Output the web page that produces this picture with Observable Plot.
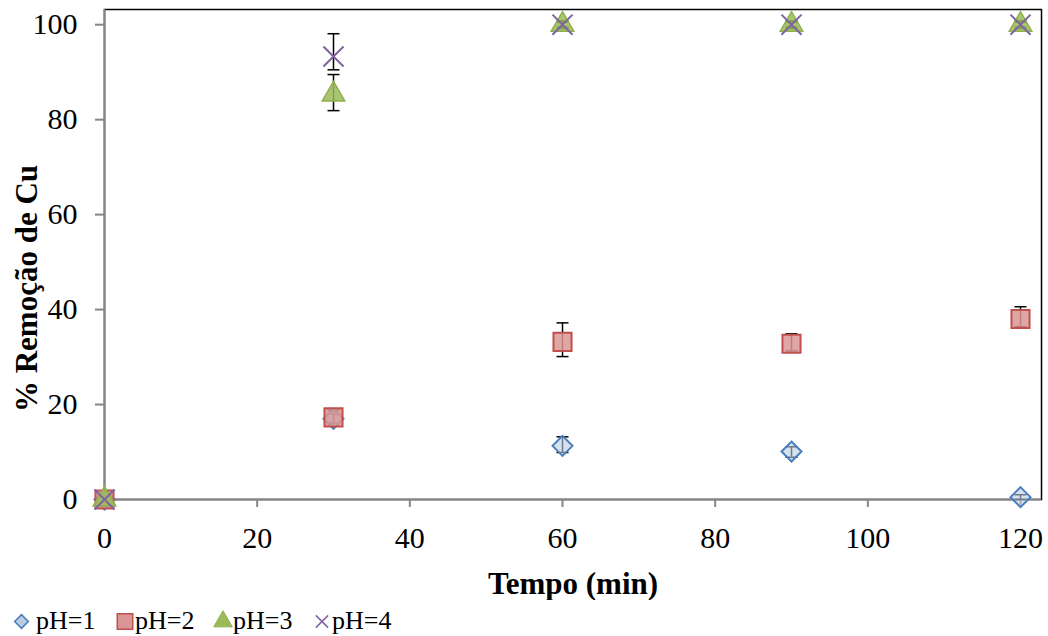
<!DOCTYPE html>
<html><head><meta charset="utf-8">
<script src="https://cdn.jsdelivr.net/npm/d3@7"></script>
<script src="https://cdn.jsdelivr.net/npm/@observablehq/plot@0.6"></script>
<style>
body{margin:0;background:#fff;font-family:"Liberation Serif","Times New Roman",serif;}
#legend{display:block;}
</style></head>
<body><div id="chart"></div><div id="legend"></div>
<script>
// Data
const tempo = [0, 30, 60, 90, 120];
const seriesNames = ["pH=1", "pH=2", "pH=3", "pH=4"];
const pH1 = [0, 17.0, 11.3, 10.1, 0.5];
const pH1Lo = [0, 16.0, 9.9, 8.9, 0.0];
const pH1Hi = [0, 18.0, 13.2, 11.1, 1.0];
const pH2 = [0, 17.3, 33.2, 32.8, 38.0];
const pH2Lo = [0, 16.1, 30.1, 31.3, 36.4];
const pH2Hi = [0, 18.8, 37.2, 34.9, 40.6];
const pH3 = [0, 85.3, 100, 100, 100];
const pH3Lo = [0, 81.9, 99.2, 99.2, 99.2];
const pH3Hi = [0, 89.5, 100.8, 100.8, 100.8];
const pH4 = [0, 93.3, 100, 100, 100];
const pH4Lo = [0, 90.5, 99.5, 99.5, 99.5];
const pH4Hi = [0, 98.1, 100.5, 100.5, 100.5];
const xTicks = [0, 20, 40, 60, 80, 100, 120];
const yTicks = [0, 20, 40, 60, 80, 100];

const vals = [pH1, pH2, pH3, pH4];
const los = [pH1Lo, pH2Lo, pH3Lo, pH4Lo];
const his = [pH1Hi, pH2Hi, pH3Hi, pH4Hi];
const rows = seriesNames.map((s, i) => tempo.map((t, j) => ({s, t, v: vals[i][j], lo: los[i][j], hi: his[i][j]})));
const errRows = rows.flat().filter(d => d.hi > d.lo);

const styles = [
  {symbol: "diamond2", r: 9, fill: "#b9cde5", fillOpacity: 0.6, stroke: "#4a7ebb", strokeWidth: 2},
  {symbol: "square", r: 10.2, fill: "#d99694", fillOpacity: 0.85, stroke: "#c0504d", strokeWidth: 2},
  {symbol: "triangle", r: 8.4, fill: "#9bbb59", fillOpacity: 0.85, stroke: "#8fb04d", strokeWidth: 1.5},
  {symbol: "times", r: 9.2, fill: "none", stroke: "#8064a2", strokeWidth: 2}
];

const cap = {draw(ctx) { ctx.moveTo(-6, 0); ctx.lineTo(6, 0); }};
const serif = "'Liberation Serif','Times New Roman',serif";

const chart = Plot.plot({
  width: 1048,
  height: 600,
  marginLeft: 104,
  marginRight: 7,
  marginTop: 9,
  marginBottom: 101,
  style: {fontFamily: serif, fontSize: "30px", background: "#fff", color: "#000"},
  x: {domain: [0, 122.75]},
  y: {domain: [0, 103.2]},
  marks: [
    Plot.frame({stroke: "#000", strokeWidth: 1.5}),
    Plot.ruleX([0], {stroke: "#868686", strokeWidth: 2}),
    Plot.ruleY([0], {stroke: "#868686", strokeWidth: 2}),
    Plot.axisX({ticks: xTicks, tickSize: 8, tickPadding: 19, stroke: "#868686", strokeWidth: 2, color: "#000", fontSize: 30, label: null, tickFormat: d => String(d)}),
    Plot.axisY({ticks: yTicks, tickSize: 9, tickPadding: 18, stroke: "#868686", strokeWidth: 2, color: "#000", fontSize: 30, label: null, tickFormat: d => String(d)}),
    Plot.text(["Tempo (min)"], {frameAnchor: "bottom", textAnchor: "middle", lineAnchor: "middle", dy: 85, fontWeight: "bold", fontSize: 31, fill: "#000"}),
    Plot.text(["% Remoção de Cu"], {frameAnchor: "left", textAnchor: "middle", lineAnchor: "middle", rotate: -90, dx: -77, dy: 34, fontWeight: "bold", fontSize: 31, fill: "#000"}),
    Plot.ruleX(errRows, {x: "t", y1: "lo", y2: "hi", stroke: "#000", strokeWidth: 1.5}),
    Plot.dot(errRows, {x: "t", y: "lo", symbol: cap, stroke: "#000", strokeWidth: 1.5}),
    Plot.dot(errRows, {x: "t", y: "hi", symbol: cap, stroke: "#000", strokeWidth: 1.5}),
    ...rows.map((r, i) => Plot.dot(r, {x: "t", y: "v", ...styles[i]}))
  ]
});
document.getElementById("chart").appendChild(chart);

// Legend
const lg = d3.select("#legend").append("svg").attr("width", 1048).attr("height", 36);
const legendX = [21.5, 125, 223, 322];
const legendSym = [
  {type: d3.symbolDiamond2, size: 120, fill: "#b9cde5", stroke: "#4a7ebb", sw: 1.5},
  {type: d3.symbolSquare, size: 240, fill: "#d99694", stroke: "#c0504d", sw: 1.5},
  {type: d3.symbolTriangle, size: 150, fill: "#9bbb59", stroke: "#8fb04d", sw: 1},
  {type: d3.symbolTimes, size: 100, fill: "none", stroke: "#8064a2", sw: 1.5}
];
seriesNames.forEach((name, i) => {
  const s = legendSym[i];
  lg.append("path").attr("d", d3.symbol(s.type, s.size)()).attr("transform", `translate(${legendX[i]},21.5)`)
    .attr("fill", s.fill).attr("stroke", s.stroke).attr("stroke-width", s.sw);
  lg.append("text").attr("x", legendX[i] + (i === 0 ? 14.5 : 10)).attr("y", 29)
    .attr("font-family", serif).attr("font-size", 26).text(name);
});
</script></body></html>
